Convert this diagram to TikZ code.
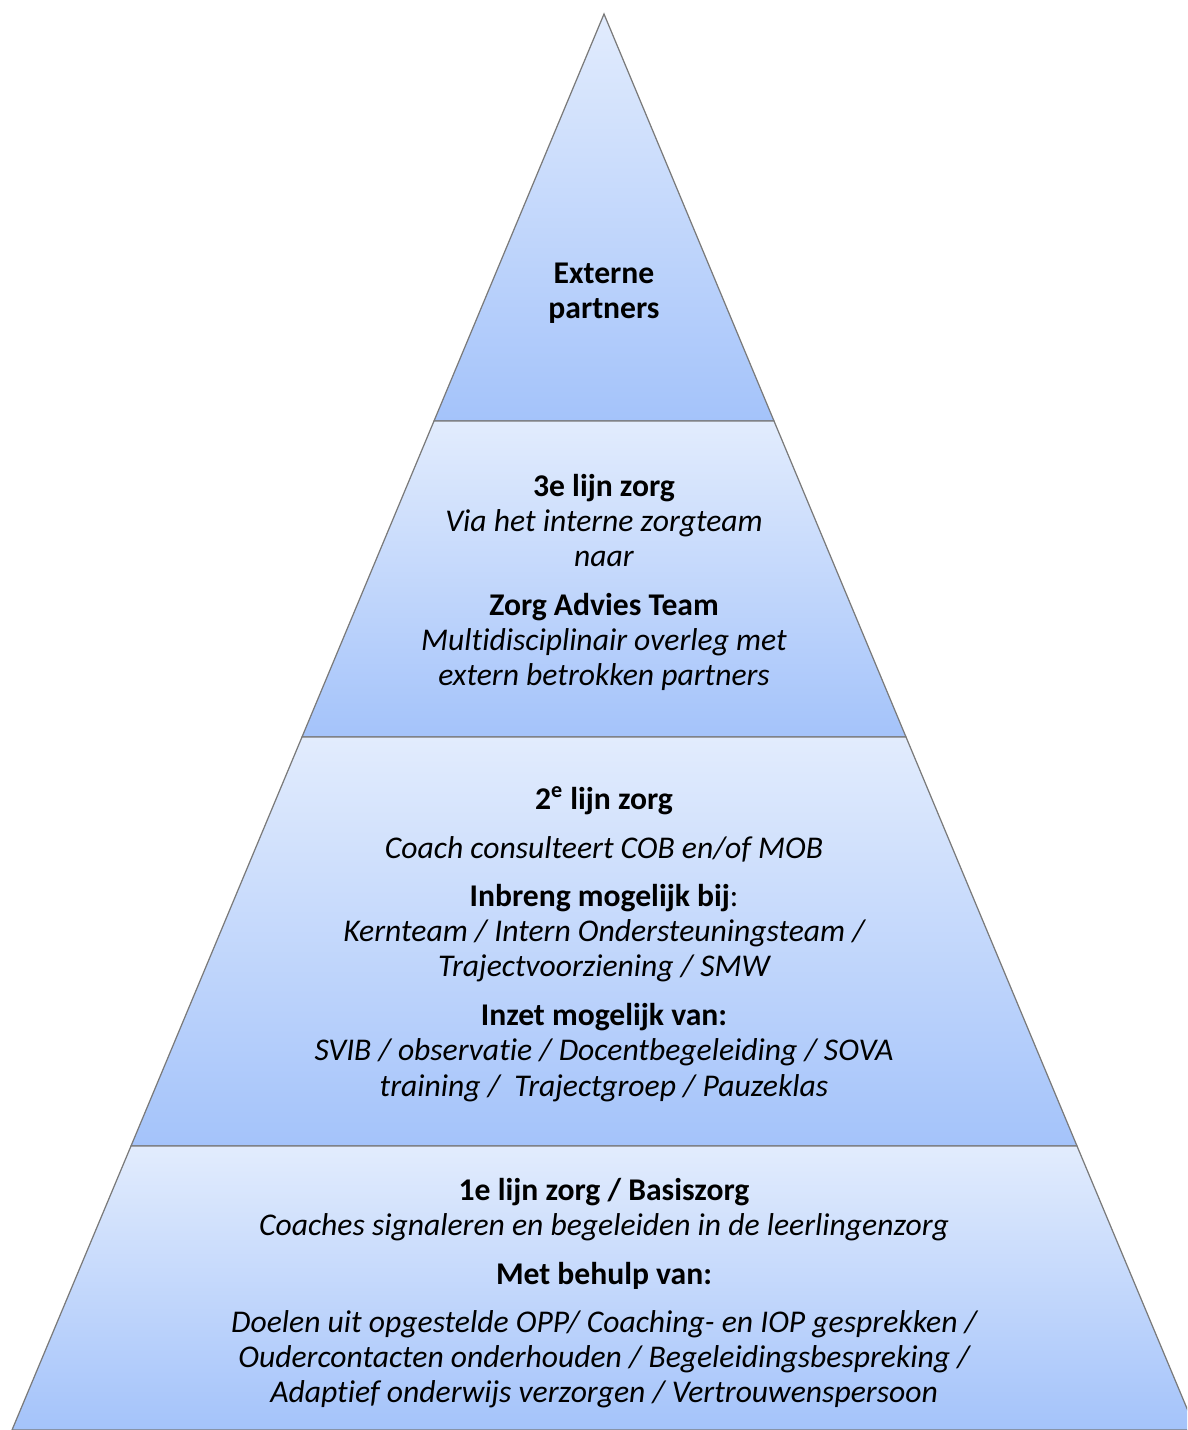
\documentclass[tikz,border=0pt]{standalone}
\usepackage{fontspec}
\setmainfont{Carlito}[RawFeature=-liga]
\usetikzlibrary{positioning}

\definecolor{lvltop}{HTML}{E2ECFD}
\definecolor{lvlbot}{HTML}{A4C3FA}
\definecolor{edge}{HTML}{7A7A7A}

% break the ti ligature
\newcommand{\tI}{t\kern0pt i}

\tikzset{
  level/.style={top color=lvltop, bottom color=lvlbot, draw=edge, line width=0.7pt},
  head/.style={anchor=base, font=\fontsize{18}{22}\selectfont\bfseries, inner sep=0pt},
  desc/.style={anchor=base, font=\fontsize{18}{22}\selectfont\itshape, inner sep=0pt},
}

\begin{document}
\begin{tikzpicture}[x=0.02cm, y=-0.02cm]
        \clip (0,0) rectangle (1187,1430);

        % pyramid corners
        \coordinate (apex) at (604,14);
        \coordinate (l1) at (434,421);  \coordinate (r1) at (774,421);
        \coordinate (l2) at (302,737);  \coordinate (r2) at (906,737);
        \coordinate (l3) at (131,1146); \coordinate (r3) at (1077,1146);
        \coordinate (l4) at (12,1430);  \coordinate (r4) at (1196,1430);

        \path[level] (apex) -- (r1) -- (l1) -- cycle;
        \path[level] (l1) -- (r1) -- (r2) -- (l2) -- cycle;
        \path[level] (l2) -- (r2) -- (r3) -- (l3) -- cycle;
        \path[level] (l3) -- (r3) -- (r4) -- (l4) -- cycle;

        % top
        \node[head] (ext1) at (604,283) {Externe};
        \node[head] (ext2) at (604,318) {partners};

        % 3e lijn
        \node[head] (d3a) at (604,496) {3e lijn zorg};
        \node[desc] (d3b) at (604,531) {Via het interne zorgteam};
        \node[desc] (d3c) at (604,566) {naar};
        \node[head] (d3d) at (604,615) {Zorg Advies Team};
        \node[desc] (d3e) at (604,650) {Mul\tI disciplinair overleg met};
        \node[desc] (d3f) at (604,685) {extern betrokken partners};

        % 2e lijn
        \node[head] (d2a) at (604,809) {2\textsuperscript{e} lijn zorg};
        \node[desc] (d2b) at (604,858) {Coach consulteert COB en/of MOB};
        \node[head] (d2c) at (604,906) {Inbreng mogelijk bij\textmd{:}};
        \node[desc] (d2d) at (604,941) {Kernteam / Intern Ondersteuningsteam /};
        \node[desc] (d2e) at (604,976) {Trajectvoorziening / SMW};
        \node[head] (d2f) at (604,1025) {Inzet mogelijk van:};
        \node[desc] (d2g) at (604,1060) {SVIB / observa\tI e / Docentbegeleiding / SOVA};
        \node[desc] (d2h) at (604,1096) {training / \ Trajectgroep / Pauzeklas};

        % 1e lijn
        \node[head] (d1a) at (604,1200) {1e lijn zorg / Basiszorg};
        \node[desc] (d1b) at (604,1235) {Coaches signaleren en begeleiden in de leerlingenzorg};
        \node[head] (d1c) at (604,1284) {Met behulp van:};
        \node[desc] (d1d) at (604,1332) {Doelen uit opgestelde OPP/ Coaching- en IOP gesprekken /};
        \node[desc] (d1e) at (604,1367) {Oudercontacten onderhouden / Begeleidingsbespreking /};
        \node[desc] (d1f) at (604,1402) {Adap\tI ef onderwijs verzorgen / Vertrouwenspersoon};

        \end{tikzpicture}
\end{document}
